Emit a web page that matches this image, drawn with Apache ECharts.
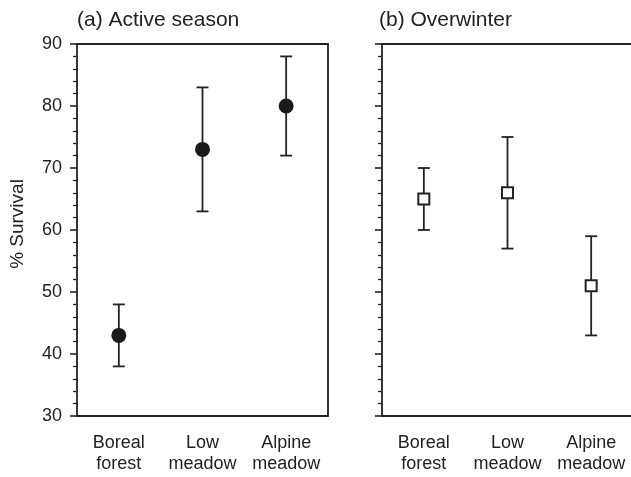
<!DOCTYPE html>
<html>
<head>
<meta charset="utf-8">
<script src="https://cdn.jsdelivr.net/npm/echarts@6/dist/echarts.min.js"></script>
<style>
  html, body { margin: 0; padding: 0; background: #fff; }
  #main { width: 631px; height: 477px; }
</style>
</head>
<body>
<div id="main"></div>
<script>
// habitats along the x axis
var habitats = ['Boreal\nforest', 'Low\nmeadow', 'Alpine\nmeadow'];

// (a) active season: mean survival and error bar ends
var activeMean = [43, 73, 80];
var activeLow  = [38, 63, 72];
var activeHigh = [48, 83, 88];

// (b) overwinter
var winterMean = [65, 66, 51];
var winterLow  = [60, 57, 43];
var winterHigh = [70, 75, 59];

var ink = '#222';
var font = 'Liberation Sans';

function errData(lo, hi) {
  var out = [];
  for (var i = 0; i < lo.length; i++) out.push([i, lo[i], hi[i]]);
  return out;
}

function renderErr(params, api) {
  var x = api.value(0);
  var top = api.coord([x, api.value(2)]);
  var bot = api.coord([x, api.value(1)]);
  var w = 6;
  var st = { stroke: ink, lineWidth: 1.8 };
  return {
    type: 'group',
    children: [
      { type: 'line', shape: { x1: top[0], y1: top[1], x2: bot[0], y2: bot[1] }, style: st },
      { type: 'line', shape: { x1: top[0] - w, y1: top[1], x2: top[0] + w, y2: top[1] }, style: st },
      { type: 'line', shape: { x1: bot[0] - w, y1: bot[1], x2: bot[0] + w, y2: bot[1] }, style: st }
    ]
  };
}

function xAxis(idx) {
  return {
    type: 'category', gridIndex: idx, data: habitats,
    axisLine: { lineStyle: { color: ink, width: 1.8 } },
    axisTick: { alignWithLabel: true, length: 5, lineStyle: { color: ink, width: 1.6 } },
    axisLabel: { interval: 0, hideOverlap: false, color: ink, fontFamily: font,
                 fontSize: 18, lineHeight: 21, margin: 17 },
    splitLine: { show: false }
  };
}

// plain line along the top of a panel
function topAxis(idx) {
  return {
    type: 'category', gridIndex: idx, position: 'top', data: habitats,
    axisLine: { lineStyle: { color: ink, width: 1.8 } },
    axisTick: { show: false }, axisLabel: { show: false }, splitLine: { show: false }
  };
}

function yAxis(idx, labels) {
  var ax = {
    type: 'value', gridIndex: idx, min: 30, max: 90, interval: 10,
    axisLine: { show: true, lineStyle: { color: ink, width: 1.8 } },
    axisTick: { show: true, length: 7, lineStyle: { color: ink, width: 1.6 } },
    minorTick: { show: true, splitNumber: 5, length: 4, lineStyle: { color: ink, width: 1.3 } },
    axisLabel: { show: labels, color: ink, fontFamily: font, fontSize: 18, margin: 15 },
    splitLine: { show: false }
  };
  if (labels) {
    ax.name = '% Survival';
    ax.nameLocation = 'middle';
    ax.nameGap = 50;
    ax.nameTextStyle = { color: ink, fontFamily: font, fontSize: 19, padding: [0, 0, 0, 12] };
  }
  return ax;
}

// right-hand edge of panel (a)
function rightAxis(idx) {
  return {
    type: 'value', gridIndex: idx, position: 'right', min: 30, max: 90, interval: 10,
    axisLine: { show: true, lineStyle: { color: ink, width: 1.8 } },
    axisTick: { show: false }, axisLabel: { show: false }, splitLine: { show: false }
  };
}

var chart = echarts.init(document.getElementById('main'));
chart.setOption({
  backgroundColor: '#fff',
  animation: false,
  title: [
    { text: '(a) Active season', left: 72, top: 5,
      textStyle: { color: ink, fontFamily: font, fontSize: 21, fontWeight: 'normal' } },
    { text: '(b) Overwinter', left: 374, top: 5,
      textStyle: { color: ink, fontFamily: font, fontSize: 21, fontWeight: 'normal' } }
  ],
  grid: [
    { left: 77, top: 44, width: 251, height: 372, outerBoundsMode: 'none' },
    { left: 382, top: 44, width: 251, height: 372, outerBoundsMode: 'none' }
  ],
  xAxis: [xAxis(0), xAxis(1), topAxis(0), topAxis(1)],
  yAxis: [yAxis(0, true), yAxis(1, false), rightAxis(0)],
  series: [
    { type: 'custom', xAxisIndex: 0, yAxisIndex: 0, data: errData(activeLow, activeHigh),
      renderItem: renderErr, z: 2 },
    { type: 'scatter', xAxisIndex: 0, yAxisIndex: 0, data: activeMean,
      symbol: 'circle', symbolSize: 15, itemStyle: { color: '#1a1a1a', opacity: 1 }, z: 5 },
    { type: 'custom', xAxisIndex: 1, yAxisIndex: 1, data: errData(winterLow, winterHigh),
      renderItem: renderErr, z: 2 },
    { type: 'scatter', xAxisIndex: 1, yAxisIndex: 1, data: winterMean,
      symbol: 'rect', symbolSize: 11,
      itemStyle: { color: '#fff', borderColor: ink, borderWidth: 2, opacity: 1 }, z: 5 }
  ]
});
</script>
</body>
</html>
